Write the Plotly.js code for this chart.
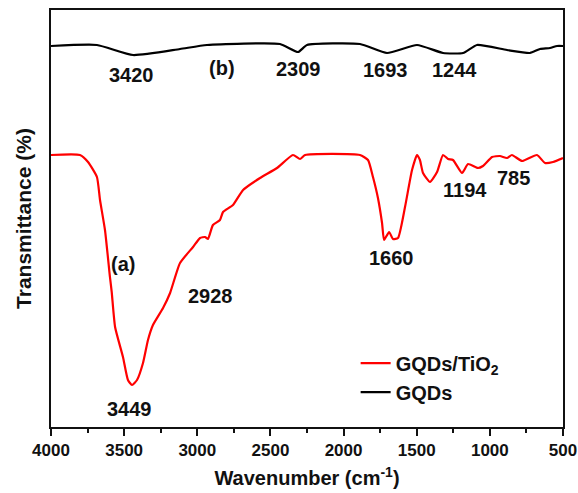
<!DOCTYPE html>
<html>
<head>
<meta charset="utf-8">
<script src="https://cdn.plot.ly/plotly-3.0.1.min.js"></script>
<style>html,body{margin:0;padding:0;background:#fff;}#chart{width:578px;height:493px;}</style>
</head>
<body>
<div id="chart"></div>
<script>
// GQDs/TiO2 spectrum (a) — wavenumber (cm-1) and transmittance (arb. units)
const wnA = [4000,3802,3747,3686,3665,3631,3597,3585,3562,3508,3474,3446,3412,3371,3337,3303,3234,3186,3118,3029,2981,2947,2927,2893,2845,2824,2756,2687,2571,2455,2346,2298,2263,1888,1833,1799,1765,1737,1723,1689,1662,1628,1580,1532,1498,1478,1457,1409,1361,1320,1286,1252,1190,1149,1081,1047,985,931,883,849,780,678,623,568,500];
const tA  = [272,272,265,250,227,197,150,135,100,70,47,42,47,64,87,102,119,134,164,180,189,190,188,202,207,215,222,237,249,259,272,268,272,272,267,250,229,204,187,195,188,189,220,257,272,267,254,245,255,272,268,267,254,263,259,261,270,271,269,272,266,272,264,265,269];
// GQDs spectrum (b)
const wnB = [4000,3686,3439,3118,2934,2435,2311,2250,1888,1703,1498,1320,1183,1088,883,726,657,589,541,500];
const tB  = [381,382,372,378,382,383,375,382,383,374,382,374,374,382,377,374,378,379,381,381];
// Peak labels
const peakText = ["3420","(b)","2309","1693","1244","(a)","2928","3449","1660","1194","785"];
const peakX    = [3450,2830,2310,1710,1240,3510,2910,3460,1670,1170,840];
const peakY    = [352,359,358,357,357,163,131,18,169,237,249];
const xTicks   = [4000,3500,3000,2500,2000,1500,1000,500];

const font = "Liberation Sans, Arial, sans-serif";
const traces = [
  {x: wnA, y: tA, type: 'scatter', mode: 'lines', name: 'GQDs/TiO<sub>2</sub>',
   line: {color: '#ff0000', width: 2.2, shape: 'spline', smoothing: 0.5}},
  {x: wnB, y: tB, type: 'scatter', mode: 'lines', name: 'GQDs',
   line: {color: '#000000', width: 2.2, shape: 'spline', smoothing: 0.5}}
];
const annotations = peakText.map((t, i) => ({
  x: peakX[i], y: peakY[i], xref: 'x', yref: 'y', text: '<b>' + t + '</b>',
  showarrow: false, font: {family: font, size: 20, color: '#111'}
}));
const layout = {
  width: 578, height: 493,
  margin: {l: 51, r: 15, t: 10, b: 66},
  paper_bgcolor: '#fff', plot_bgcolor: '#fff',
  showlegend: true,
  legend: {x: 0.595, y: 0.2, xanchor: 'left', yanchor: 'top', bgcolor: 'rgba(0,0,0,0)',
           font: {family: font, size: 20, color: '#111', weight: 'bold'}, tracegroupgap: 0},
  xaxis: {
    range: [4000, 500], tickvals: xTicks, ticks: 'outside', ticklen: 7, tickwidth: 2, tickcolor: '#111',
    minor: {dtick: 250, ticks: 'outside', ticklen: 4, tickwidth: 2, tickcolor: '#111'},
    showline: true, linecolor: '#111', linewidth: 2, mirror: true, showgrid: false, zeroline: false,
    tickfont: {family: font, size: 17, color: '#111', weight: 'bold'},
    title: {text: '<b>Wavenumber (cm<sup>-1</sup>)</b>', font: {family: font, size: 20, color: '#111'}, standoff: 12}
  },
  yaxis: {
    range: [0, 417], showticklabels: false, ticks: '', showline: true, linecolor: '#111', linewidth: 2,
    mirror: true, showgrid: false, zeroline: false,
    title: {text: '<b>Transmittance (%)</b>', font: {family: font, size: 21, color: '#111'}, standoff: 12}
  },
  annotations: annotations
};
Plotly.newPlot('chart', traces, layout, {staticPlot: true, displayModeBar: false});
</script>
</body>
</html>
